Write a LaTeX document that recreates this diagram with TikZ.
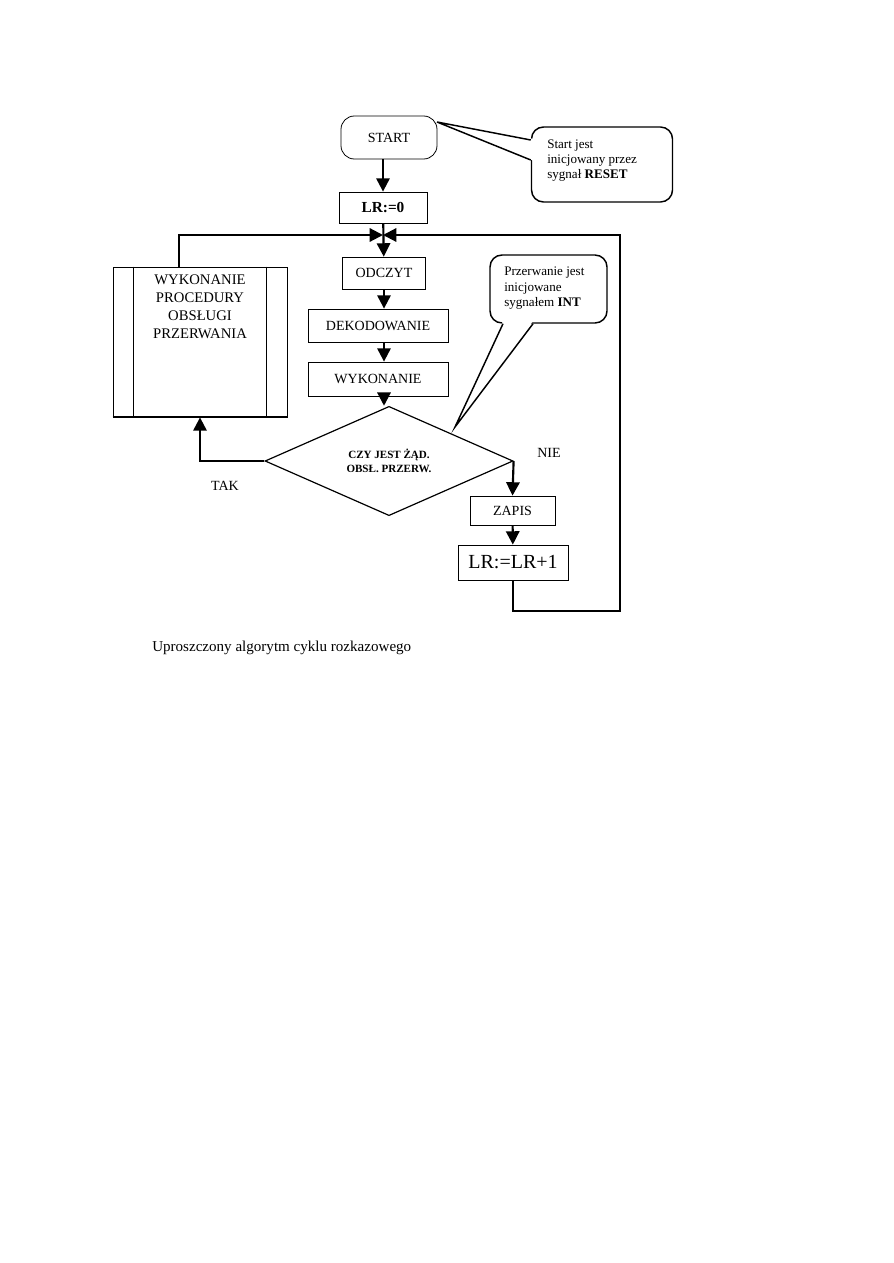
\documentclass[tikz,border=0pt]{standalone}
\usepackage{fontspec}
\setmainfont{Liberation Serif}
\usetikzlibrary{positioning,arrows.meta,shapes.geometric,calc}

\begin{document}
\begin{tikzpicture}[x=0.75pt,y=-0.75pt,
    every node/.style={font=\fontsize{10.5}{13.5}\selectfont,inner sep=0pt},
    box/.style={draw,line width=.6pt},
    note/.style={draw,line width=1.1pt,rounded corners=9pt},
    conn/.style={line width=1.6pt},
    arrow/.style={conn,-{Triangle[length=10pt,width=10pt]}}]
  \useasboundingbox (0,0) rectangle (893,1263);
  % call-out boxes
  \node[note,minimum width=105.75pt,minimum height=56.25pt] (note1) at (602,164.5) {};
  \node[anchor=north west,align=left,font=\fontsize{9.8}{11}\selectfont] (note1txt) at (547,140) {Start jest\\inicjowany przez\\sygnał \textbf{RESET}};
  \fill[white] (437,122) -- (534,139) -- (534,161) -- cycle;
  \draw[line width=1.1pt] ($(note1.west)+(0,-24.5)$) -- (437,122) -- ($(note1.west)+(0,-4.5)$);
  \node[note,minimum width=87.75pt,minimum height=51pt] (note2) at (548.5,289) {};
  \node[anchor=north west,align=left,font=\fontsize{9.8}{11.5}\selectfont] (note2txt) at (504,267) {Przerwanie jest\\inicjowane\\sygnałem \textbf{INT}};
  \fill[white] (455,427) -- (503,321) -- (533,321) -- cycle;
  \draw[line width=1.1pt] ($(note2.south)+(-45.5,0)$) -- (455,427) -- ($(note2.south)+(-15.5,0)$);
  % main path
  \node[box,rounded corners=10pt,minimum width=72pt,minimum height=32.25pt] (start) at (389,137.5) {START};
  \node[box,minimum width=66pt,minimum height=23.25pt,font=\fontsize{11.5}{13}\selectfont\bfseries] (lr0) at (383,207.5) {LR:=0};
  \node[box,minimum width=62.25pt,minimum height=24pt] (odczyt) at (384,273) {ODCZYT};
  \node[box,minimum width=105pt,minimum height=24.75pt] (dekod) at (378,325.5) {DEKODOWANIE};
  \node[box,minimum width=105pt,minimum height=25.5pt] (wyk) at (378,379) {WYKONANIE};
  \node[box,line width=.9pt,shape=diamond,minimum width=186pt,minimum height=64.5pt,align=center,font=\fontsize{8.3}{11}\selectfont\bfseries] (dec) at (389,461) {CZY JEST ŻĄD.\\OBSŁ. PRZERW.};
  \node[box,minimum width=63.75pt,minimum height=21.75pt] (zapis) at (512.5,510.5) {ZAPIS};
  \node[box,minimum width=82.5pt,minimum height=26.25pt,font=\fontsize{15}{17}\selectfont] (lrplus) at (513,562.5) {LR:=LR+1};
  % interrupt procedure
  \node[box,minimum width=130.5pt,minimum height=112.5pt] (proc) at (200,342) {};
  \node[anchor=north,align=center,font=\fontsize{11}{13.5}\selectfont] (proctxt) at (200,275) {WYKONANIE\\PROCEDURY\\OBSŁUGI\\PRZERWANIA};
  \draw[line width=.6pt] ([xshift=15.75pt]proc.north west) -- ([xshift=15.75pt]proc.south west);
  \draw[line width=.6pt] ([xshift=-15.75pt]proc.north east) -- ([xshift=-15.75pt]proc.south east);
  \draw[conn] (proc.south west) -- (proc.south east);
  % labels
  \node (tak) at (225,486) {TAK};
  \node (nie) at (549,453) {NIE};
  \node[anchor=west,font=\fontsize{11.3}{13}\selectfont] (caption) at (152,648) {Uproszczony algorytm cyklu rozkazowego};
  % connectors
  \coordinate (join) at (383,235);
  \coordinate (procin) at (179,267);
  \coordinate (loopbot) at (620,611);
  \coordinate (looptop) at (620,235);
  \draw[arrow] (lr0 |- start.south) -- (lr0);
  \draw[arrow] (lr0) -- (odczyt);
  \draw[arrow] (odczyt.south) -- (odczyt.south |- dekod.north);
  \draw[arrow] (odczyt.south |- dekod.south) -- (odczyt.south |- wyk.north);
  \draw[arrow] (odczyt.south |- wyk.south) -- (odczyt.south |- dec.north);
  \draw[arrow] (procin) |- (join);
  \draw[arrow] (lrplus.south) |- (loopbot) -- (looptop) -- (join);
  \draw[arrow] (dec.west) -| (proc.south);
  \draw[arrow] (dec.east) -- (zapis.north);
  \draw[arrow] (zapis) -- (lrplus);
\end{tikzpicture}
\end{document}
